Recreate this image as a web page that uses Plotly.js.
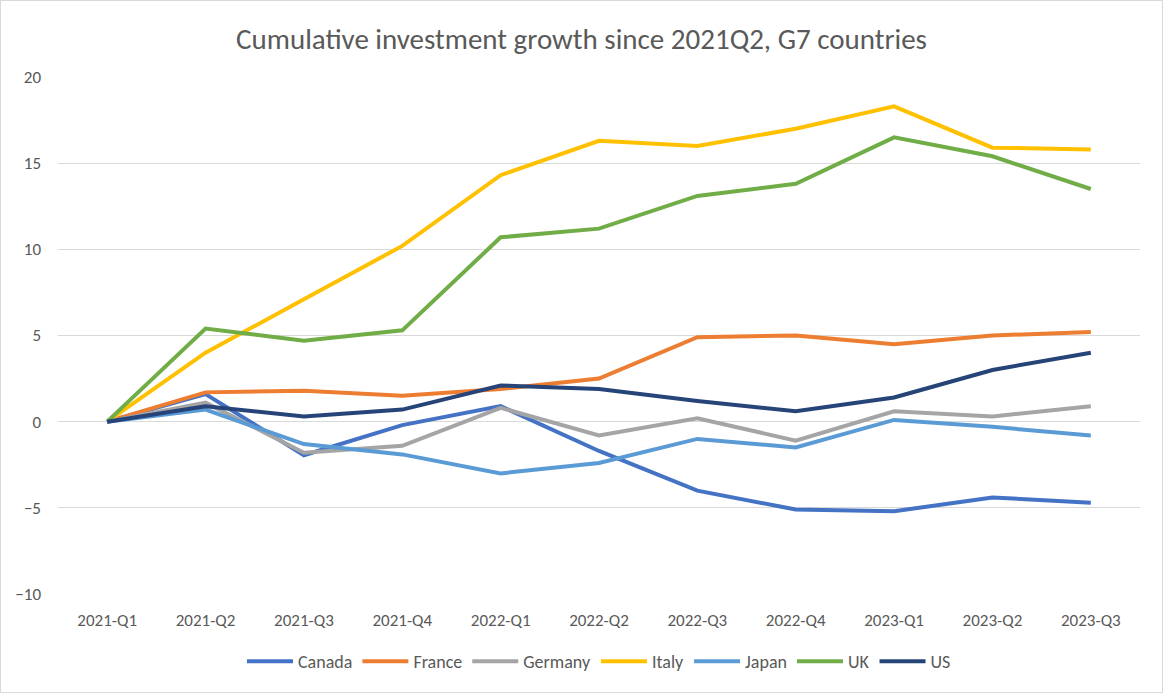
<!DOCTYPE html>
<html>
<head>
<meta charset="utf-8">
<script src="https://cdn.plot.ly/plotly-3.0.1.min.js"></script>
<style>
html,body{margin:0;padding:0;background:#fff;}
#chart{width:1163px;height:693px;box-sizing:border-box;border:1px solid #d9d9d9;}
</style>
</head>
<body>
<div id="chart"></div>
<script>
const quarters = ["2021-Q1","2021-Q2","2021-Q3","2021-Q4","2022-Q1","2022-Q2","2022-Q3","2022-Q4","2023-Q1","2023-Q2","2023-Q3"];
const canada  = [0, 1.6, -1.95, -0.2, 0.9, -1.7, -4.0, -5.1, -5.2, -4.4, -4.7];
const france  = [0, 1.7, 1.8, 1.5, 1.9, 2.5, 4.9, 5.0, 4.5, 5.0, 5.2];
const germany = [0, 1.1, -1.8, -1.4, 0.8, -0.8, 0.2, -1.1, 0.6, 0.3, 0.9];
const italy   = [0, 4.0, 7.1, 10.2, 14.3, 16.3, 16.0, 17.0, 18.3, 15.9, 15.8];
const japan   = [0, 0.7, -1.3, -1.9, -3.0, -2.4, -1.0, -1.5, 0.1, -0.3, -0.8];
const uk      = [0, 5.4, 4.7, 5.3, 10.7, 11.2, 13.1, 13.8, 16.5, 15.4, 13.5];
const us      = [0, 0.9, 0.3, 0.7, 2.1, 1.9, 1.2, 0.6, 1.4, 3.0, 4.0];
const seriesNames = ["Canada","France","Germany","Italy","Japan","UK","US"];
const seriesData = [canada, france, germany, italy, japan, uk, us];
const colors = ["#4472C4","#ED7D31","#A5A5A5","#FFC000","#5B9BD5","#70AD47","#264478"];

const font = "Calibri, Carlito, 'Liberation Sans Narrow', 'Liberation Sans', sans-serif";
const traces = seriesNames.map((n,i)=>({
  type:"scatter", mode:"lines", name:n, x:quarters, y:seriesData[i],
  line:{color:colors[i], width:4, shape:"linear"}, hoverinfo:"skip"
}));

const layout = {
  width:1161, height:691,
  margin:{l:57, r:22, t:76, b:94},
  paper_bgcolor:"#fff", plot_bgcolor:"#fff",
  font:{family:font, color:"#595959", size:17},
  title:{text:"Cumulative investment growth since 2021Q2, G7 countries", x:0.5, xanchor:"center", y:0.945, yanchor:"middle", font:{size:29, color:"#595959", family:font}},
  showlegend:true,
  legend:{orientation:"h", x:0.5, xanchor:"center", y:-0.095, yanchor:"top", font:{size:18, color:"#595959"}, itemwidth:46, tracegroupgap:0, traceorder:"normal"},
  xaxis:{type:"category", range:[-0.5,10.5], showgrid:false, zeroline:false, showline:false, ticks:"", tickfont:{size:17, color:"#595959"}, fixedrange:true, ticklabelstandoff:14},
  yaxis:{range:[-10,20], dtick:5, showgrid:true, gridcolor:"#d9d9d9", gridwidth:1, zeroline:true, zerolinecolor:"#d9d9d9", zerolinewidth:1, showline:false, ticks:"", tickfont:{size:17, color:"#595959"}, fixedrange:true, ticklabelstandoff:16}
};
Plotly.newPlot("chart", traces, layout, {displayModeBar:false, staticPlot:true});
</script>
</body>
</html>
